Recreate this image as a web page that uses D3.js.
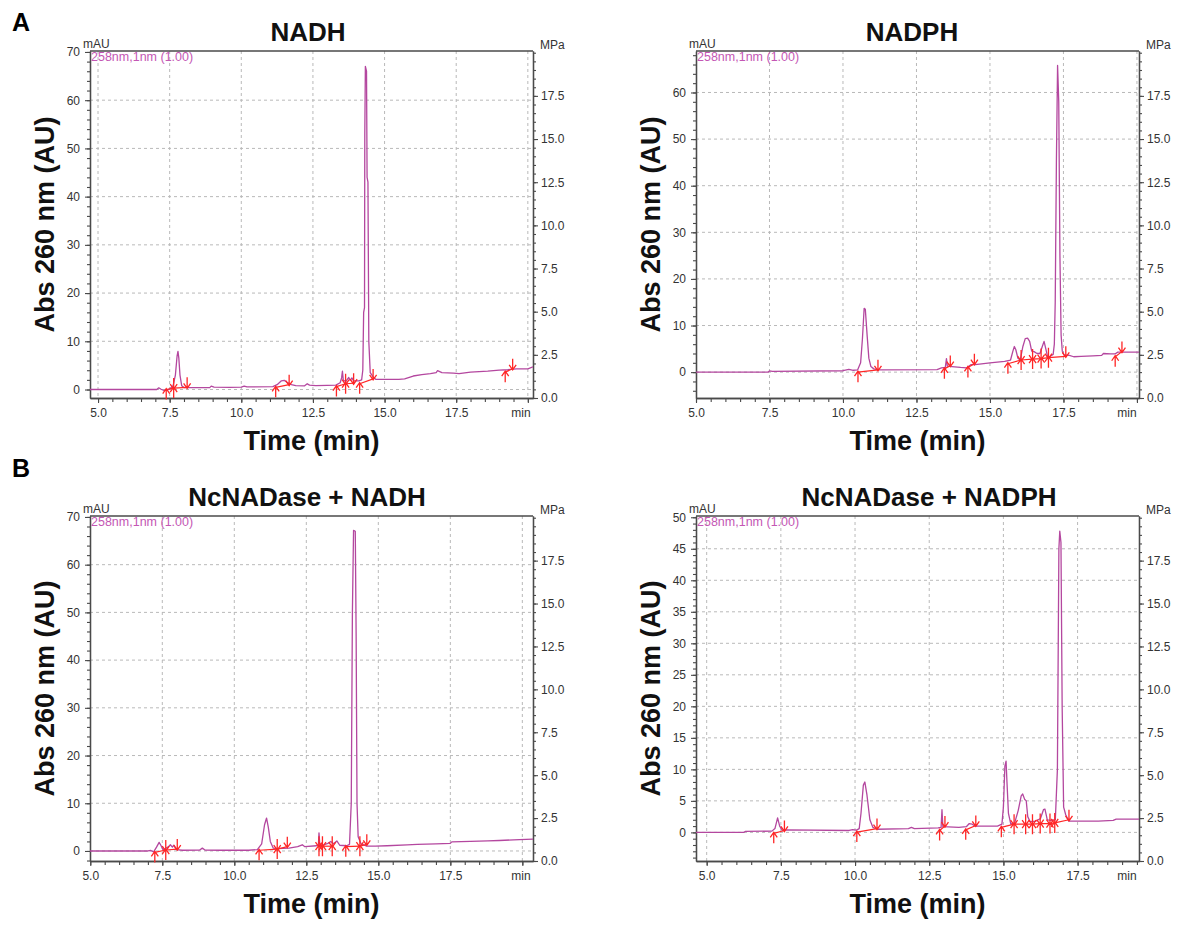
<!DOCTYPE html>
<html>
<head>
<meta charset="utf-8">
<title>HPLC chromatograms</title>
<script src="https://cdn.jsdelivr.net/npm/d3@7"></script>
<style>
    body { margin: 0; background: #fff; }
    svg { display: block; }
</style>
</head>
<body>
<script>

// tick labels shared by the panels
var timeTicks = [5, 7.5, 10, 12.5, 15, 17.5, 20];
var pressureTicks = [0, 2.5, 5, 7.5, 10, 12.5, 15, 17.5];
var absTicks70 = [0, 10, 20, 30, 40, 50, 60, 70];
var absTicks50 = [0, 5, 10, 15, 20, 25, 30, 35, 40, 45, 50];

// traces: [time (min), absorbance (mAU)]
var nadhTrace = [[4.72,0],[7.05,0],[7.12,0.35],[7.2,0.05],[7.3,-0.2],[7.4,-0.1],[7.5,0.1],[7.62,0.8],[7.7,3],[7.76,7],[7.79,7.9],[7.82,6.5],[7.86,3],[7.92,0.8],[8.0,0.4],[8.5,0.4],[8.9,0.4],[8.95,0.7],[9.05,0.5],[9.6,0.45],[10.0,0.5],[10.1,0.7],[10.2,0.55],[11.1,0.6],[11.25,1.0],[11.4,1.8],[11.5,1.9],[11.6,1.5],[11.75,1.0],[11.9,0.8],[12.2,0.75],[12.3,1.2],[12.38,0.9],[12.6,0.8],[13.0,0.85],[13.3,0.9],[13.45,1.4],[13.5,2.4],[13.53,3.8],[13.56,1.9],[13.65,1.7],[13.75,2.5],[13.8,1.9],[13.86,2.4],[13.92,1.8],[14.1,1.8],[14.2,2.0],[14.24,4],[14.27,16],[14.3,17],[14.31,53],[14.33,67],[14.37,66],[14.39,44],[14.42,43],[14.45,10],[14.5,3.5],[14.6,2.6],[14.7,2.1],[15.5,2.1],[15.7,2.2],[16.0,2.8],[16.3,3.1],[16.6,3.3],[16.8,3.5],[16.85,3.9],[17.0,3.5],[17.4,3.4],[17.6,3.3],[18.0,3.6],[18.6,3.8],[19.0,4.0],[19.3,4.1],[19.6,4.3],[20.0,4.3],[20.18,4.7]];

var nadphTrace = [[5.0,0],[7.45,0],[7.5,0.25],[7.6,0.15],[10.0,0.3],[10.2,0.6],[10.35,0.4],[10.5,0.5],[10.6,2],[10.66,7],[10.72,13.7],[10.76,13.5],[10.82,8],[10.88,3],[10.95,1.2],[11.05,0.7],[11.2,0.5],[13.2,0.55],[13.35,0.9],[13.48,1.0],[13.52,2.9],[13.55,1.3],[13.7,1.2],[14.0,1.0],[14.2,0.9],[14.35,1.6],[14.5,1.6],[15.0,2.0],[15.5,2.3],[15.7,2.6],[15.78,4.5],[15.83,5.5],[15.88,4.8],[15.95,3.0],[16.03,2.6],[16.12,5.5],[16.2,7.2],[16.28,7.3],[16.35,6.6],[16.42,4.5],[16.5,4.4],[16.6,4.0],[16.7,4.0],[16.78,5.5],[16.84,6.6],[16.9,5.0],[16.96,3.3],[17.05,3.4],[17.15,3.8],[17.19,6],[17.22,15],[17.26,45],[17.3,65.8],[17.34,58],[17.38,25],[17.42,8],[17.46,4.5],[17.52,3.7],[17.7,3.6],[17.85,3.3],[18.1,3.4],[18.5,3.5],[18.8,3.6],[18.86,4.0],[19.1,3.9],[19.25,3.9],[19.35,4.3],[19.6,4.3],[20.07,4.3]];

var nadaseNadhTrace = [[4.99,0],[7.0,0],[7.1,0.1],[7.2,-0.2],[7.3,0.8],[7.39,1.8],[7.45,1.2],[7.52,0.3],[7.6,0.5],[7.72,0.9],[7.78,1.3],[7.85,0.8],[7.9,1.2],[7.98,0.3],[8.2,0.15],[8.8,0.2],[8.89,0.6],[8.98,0.2],[9.5,0.15],[10.5,0.15],[10.8,0.3],[10.95,1.5],[11.05,5.5],[11.12,6.9],[11.18,5],[11.25,2],[11.35,0.6],[11.5,0.5],[11.9,0.6],[12.2,0.9],[12.36,1.3],[12.45,0.9],[12.85,1.1],[12.92,1.3],[12.94,3.8],[12.97,1.2],[13.1,1.3],[13.25,1.6],[13.35,2.0],[13.45,1.5],[13.56,2.1],[13.66,1.2],[13.9,1.1],[14.0,1.4],[14.06,10],[14.1,50],[14.14,67.2],[14.2,67],[14.23,45],[14.26,10],[14.3,3.0],[14.4,1.5],[14.6,1.0],[14.9,1.0],[15.3,1.1],[16.0,1.3],[16.35,1.4],[17.0,1.5],[17.5,1.6],[17.55,1.9],[18.2,2.0],[18.8,2.1],[19.2,2.2],[19.9,2.4],[20.37,2.5]];

var nadaseNadphTrace = [[4.64,0],[6.25,0],[6.3,0.15],[7.2,0.2],[7.3,0.6],[7.39,2.3],[7.46,1.0],[7.55,0.3],[7.7,0.4],[9.8,0.3],[9.92,0.45],[10.05,0.35],[10.14,0.6],[10.2,3],[10.28,7.5],[10.33,8.0],[10.4,6],[10.5,2],[10.6,0.8],[10.75,0.5],[11.8,0.6],[11.9,0.8],[12.0,0.6],[12.8,0.7],[12.9,0.8],[12.93,3.6],[12.96,0.9],[13.5,0.8],[13.75,0.9],[13.85,1.4],[13.95,1.3],[14.05,1.0],[14.8,1.0],[14.95,1.3],[15.0,4],[15.05,10.5],[15.09,11.3],[15.12,8],[15.17,3],[15.25,1.3],[15.38,1.5],[15.5,3.5],[15.6,5.8],[15.65,6.1],[15.72,5.2],[15.77,5.0],[15.82,2.5],[15.9,1.7],[16.1,1.8],[16.25,2.2],[16.35,3.6],[16.4,3.7],[16.48,2.0],[16.6,1.9],[16.75,2.0],[16.82,10],[16.87,45],[16.9,47.8],[16.94,46],[16.98,20],[17.03,4],[17.1,2.8],[17.2,1.8],[17.5,1.8],[18.2,1.8],[18.7,1.9],[18.8,2.1],[19.57,2.1]];

// peak integration marks: [time, baseline mAU, kind (s start / e end / x both), baseline group]
var nadhMarks = [[7.38,0.0,"s",0],[7.64,0.3,"x",0],[8.11,0.45,"e",0],[11.2,0.45,"s",1],[11.67,1.0,"e",1],[13.32,0.6,"s",2],[13.64,1.2,"x",2],[13.92,1.3,"e",2],[14.13,1.2,"s",3],[14.6,2.2,"e",3],[19.21,3.6,"s",4],[19.47,4.3,"e",4]];
var nadphMarks = [[10.51,0.0,"s",0],[11.19,0.5,"e",0],[13.45,0.7,"s",1],[13.65,1.4,"e",1],[14.25,1.0,"s",2],[14.47,1.8,"e",2],[15.61,1.8,"s",3],[16.06,2.6,"x",3],[16.45,2.8,"x",3],[16.74,2.9,"x",3],[16.99,3.1,"x",3],[17.58,3.4,"e",3],[19.26,3.3,"s",4],[19.49,4.4,"e",4]];
var nadaseNadhMarks = [[7.24,-0.3,"s",0],[7.62,0.2,"x",0],[8.02,0.4,"e",0],[10.86,0.15,"s",1],[11.49,0.4,"x",1],[11.84,0.9,"e",1],[12.94,1.0,"x",2],[13.06,1.0,"x",2],[13.4,1.0,"x",2],[13.87,0.9,"s",3],[14.36,1.0,"x",3],[14.6,1.4,"e",3]];
var nadaseNadphMarks = [[7.26,-0.15,"s",0],[7.62,0.3,"e",0],[10.06,0.05,"s",1],[10.74,0.6,"e",1],[12.85,0.3,"s",2],[13.03,1.0,"e",2],[13.73,0.4,"s",3],[14.07,1.1,"e",3],[14.93,0.8,"s",4],[15.36,1.3,"x",4],[15.75,1.3,"x",4],[15.98,1.3,"x",4],[16.24,1.4,"x",4],[16.57,1.4,"x",4],[16.73,1.5,"x",4],[17.21,2.0,"e",4]];

var FONT = "'Liberation Sans', Arial, sans-serif";
var TRACE = "#b4479f", MARK = "#ff2626", AXIS = "#4a4a4a", GRID = "#b9b9b9";

var svg = d3.select("body").append("svg")
        .attr("width", 1178)
        .attr("height", 926)
        .style("font-family", FONT);

svg.append("rect").attr("width", 1178).attr("height", 926).attr("fill", "#fff");

// panel letters
svg.append("text").attr("x", 12).attr("y", 31).text("A")
        .style("font-size", "25px").style("font-weight", "bold");
svg.append("text").attr("x", 12).attr("y", 477).text("B")
        .style("font-size", "25px").style("font-weight", "bold");

function range(lo, hi, step)
{
    // minor tick positions inside a domain
    var out = [], v = Math.ceil(lo / step - 1e-6) * step;
    for (; v <= hi + 1e-6; v += step) out.push(+v.toFixed(4));
    return out;
}

function markPath(kind, px, py)
{
    var s = "";
    if (kind !== "e")
        s += "M" + px + "," + (py + 10) + "V" + (py - 1)
            + "M" + (px - 3.5) + "," + (py + 4) + "L" + px + "," + (py - 1) + "L" + (px + 3.5) + "," + (py + 4);
    if (kind !== "s")
        s += "M" + px + "," + (py - 10) + "V" + (py + 1)
            + "M" + (px - 3.5) + "," + (py - 4) + "L" + px + "," + (py + 1) + "L" + (px + 3.5) + "," + (py - 4);
    return s;
}

function styleAxis(g)
{
    g.select(".domain").attr("stroke", AXIS).attr("stroke-width", 1.3);
    g.selectAll(".tick line").attr("stroke", AXIS).attr("stroke-width", 1.1);
    g.selectAll(".tick text").attr("fill", "#333").style("font-size", "12px").style("font-family", FONT);
}

function drawPanel(p, idx)
{
    var x = d3.scaleLinear().domain(p.xDomain).range([p.left, p.right]);
    var y = d3.scaleLinear().domain(p.yDomain).range([p.bottom, p.top]);
    var yP = d3.scaleLinear().domain([0, 20.1]).range([p.bottom, p.top]);

    var g = svg.append("g");

    g.append("defs").append("clipPath").attr("id", "clip" + idx)
            .append("rect")
            .attr("x", p.left).attr("y", p.top)
            .attr("width", p.right - p.left).attr("height", p.bottom - p.top);

    var xMajor = timeTicks.filter(function (d) { return d >= p.xDomain[0] && d <= p.xDomain[1]; });
    var yMajor = p.yTicks.filter(function (d) { return d >= p.yDomain[0] && d <= p.yDomain[1]; });

    // dashed grid
    g.selectAll("line.vgrid")
            .data(xMajor.filter(function (d) { return x(d) - p.left > 3 && p.right - x(d) > 1; }))
            .enter().append("line")
            .attr("x1", function (d) { return x(d); }).attr("x2", function (d) { return x(d); })
            .attr("y1", p.top).attr("y2", p.bottom)
            .attr("stroke", GRID).attr("stroke-dasharray", "3,3");
    g.selectAll("line.hgrid")
            .data(yMajor.filter(function (d) { return y(d) - p.top > 3 && p.bottom - y(d) > 3; }))
            .enter().append("line")
            .attr("x1", p.left).attr("x2", p.right)
            .attr("y1", function (d) { return y(d); }).attr("y2", function (d) { return y(d); })
            .attr("stroke", GRID).attr("stroke-dasharray", "3,3");

    // axes with minor ticks
    var bottomMinor = g.append("g").attr("transform", "translate(0," + p.bottom + ")")
            .call(d3.axisBottom(x).tickValues(range(p.xDomain[0], p.xDomain[1], 0.5)).tickSize(4).tickSizeOuter(0).tickFormat(""));
    styleAxis(bottomMinor);
    var bottomAxis = g.append("g").attr("transform", "translate(0," + p.bottom + ")")
            .call(d3.axisBottom(x).tickValues(xMajor).tickSize(5).tickSizeOuter(0).tickPadding(5)
                    .tickFormat(function (d) { return d === 20 ? "" : d3.format(".1f")(d); }));
    styleAxis(bottomAxis);

    var leftMinor = g.append("g").attr("transform", "translate(" + p.left + ",0)")
            .call(d3.axisLeft(y).tickValues(range(p.yDomain[0], p.yDomain[1], p.yMinor)).tickSize(3).tickSizeOuter(0).tickFormat(""));
    styleAxis(leftMinor);
    var leftAxis = g.append("g").attr("transform", "translate(" + p.left + ",0)")
            .call(d3.axisLeft(y).tickValues(yMajor).tickSize(5).tickSizeOuter(0).tickPadding(5));
    styleAxis(leftAxis);

    var rightMinor = g.append("g").attr("transform", "translate(" + p.right + ",0)")
            .call(d3.axisRight(yP).tickValues(range(0, 20.1, 0.5)).tickSize(3).tickSizeOuter(0).tickFormat(""));
    styleAxis(rightMinor);
    var rightAxis = g.append("g").attr("transform", "translate(" + p.right + ",0)")
            .call(d3.axisRight(yP).tickValues(pressureTicks).tickSize(5).tickSizeOuter(0).tickPadding(3)
                    .tickFormat(d3.format(".1f")));
    styleAxis(rightAxis);

    // top frame
    g.append("line").attr("x1", p.left).attr("x2", p.right)
            .attr("y1", p.top).attr("y2", p.top)
            .attr("stroke", AXIS).attr("stroke-width", 1.3);

    // small instrument labels
    g.append("text").attr("x", p.left - 7).attr("y", p.top - 3).text("mAU")
            .attr("fill", "#333").style("font-size", "12px");
    g.append("text").attr("x", p.right + 7).attr("y", p.top - 2).text("MPa")
            .attr("fill", "#333").style("font-size", "12px");
    g.append("text").attr("x", p.right - 12).attr("y", p.bottom + 10).attr("dy", "0.71em")
            .attr("text-anchor", "middle").text("min")
            .attr("fill", "#333").style("font-size", "12px");
    g.append("text").attr("x", p.left + 1).attr("y", p.top + 10).text("258nm,1nm (1.00)")
            .attr("fill", "#c457b4").style("font-size", "12.5px");

    // chromatogram
    var line = d3.line()
            .x(function (d) { return x(d[0]); })
            .y(function (d) { return y(d[1]); });

    g.append("path").datum(p.trace)
            .attr("d", line)
            .attr("fill", "none")
            .attr("stroke", TRACE)
            .attr("stroke-width", 1.3)
            .attr("stroke-linejoin", "round")
            .attr("clip-path", "url(#clip" + idx + ")");

    // integration baselines and peak marks
    var groups = d3.groups(p.marks, function (d) { return d[3]; });
    g.selectAll("path.base").data(groups).enter().append("path")
            .attr("d", function (d) { return line(d[1]); })
            .attr("fill", "none").attr("stroke", MARK).attr("stroke-width", 1.2);
    g.selectAll("path.mark").data(p.marks).enter().append("path")
            .attr("d", function (d) { return markPath(d[2], x(d[0]), y(d[1])); })
            .attr("fill", "none").attr("stroke", MARK).attr("stroke-width", 1.3);

    // titles
    g.append("text").attr("x", p.titleX).attr("y", p.top - 10)
            .attr("text-anchor", "middle").text(p.title)
            .attr("fill", "#111").style("font-size", "26px").style("font-weight", "bold");
    g.append("text")
            .attr("transform", "translate(" + (p.left - 36) + "," + ((p.top + p.bottom) / 2) + ") rotate(-90)")
            .attr("text-anchor", "middle").text("Abs 260 nm (AU)")
            .attr("fill", "#111").style("font-size", "27px").style("font-weight", "bold");
    g.append("text").attr("x", (p.left + p.right) / 2).attr("y", p.bottom + 52)
            .attr("text-anchor", "middle").text("Time (min)")
            .attr("fill", "#111").style("font-size", "27px").style("font-weight", "bold");
}

var panels = [
    {title: "NADH", trace: nadhTrace, marks: nadhMarks, yTicks: absTicks70, yMinor: 2,
        left: 90, right: 533, top: 51, bottom: 398, xDomain: [4.72, 20.18], yDomain: [-1.76, 70.2], titleX: 308},
    {title: "NADPH", trace: nadphTrace, marks: nadphMarks, yTicks: absTicks70, yMinor: 2,
        left: 696, right: 1139, top: 51, bottom: 398, xDomain: [5.0, 20.07], yDomain: [-5.55, 68.9], titleX: 912},
    {title: "NcNADase + NADH", trace: nadaseNadhTrace, marks: nadaseNadhMarks, yTicks: absTicks70, yMinor: 2,
        left: 90, right: 533, top: 516, bottom: 861, xDomain: [4.99, 20.37], yDomain: [-2.1, 70.2], titleX: 307},
    {title: "NcNADase + NADPH", trace: nadaseNadphTrace, marks: nadaseNadphMarks, yTicks: absTicks50, yMinor: 1,
        left: 696, right: 1139, top: 516, bottom: 861, xDomain: [4.64, 19.57], yDomain: [-4.54, 50.2], titleX: 929}
];

panels.forEach(drawPanel);

</script>
</body>
</html>
